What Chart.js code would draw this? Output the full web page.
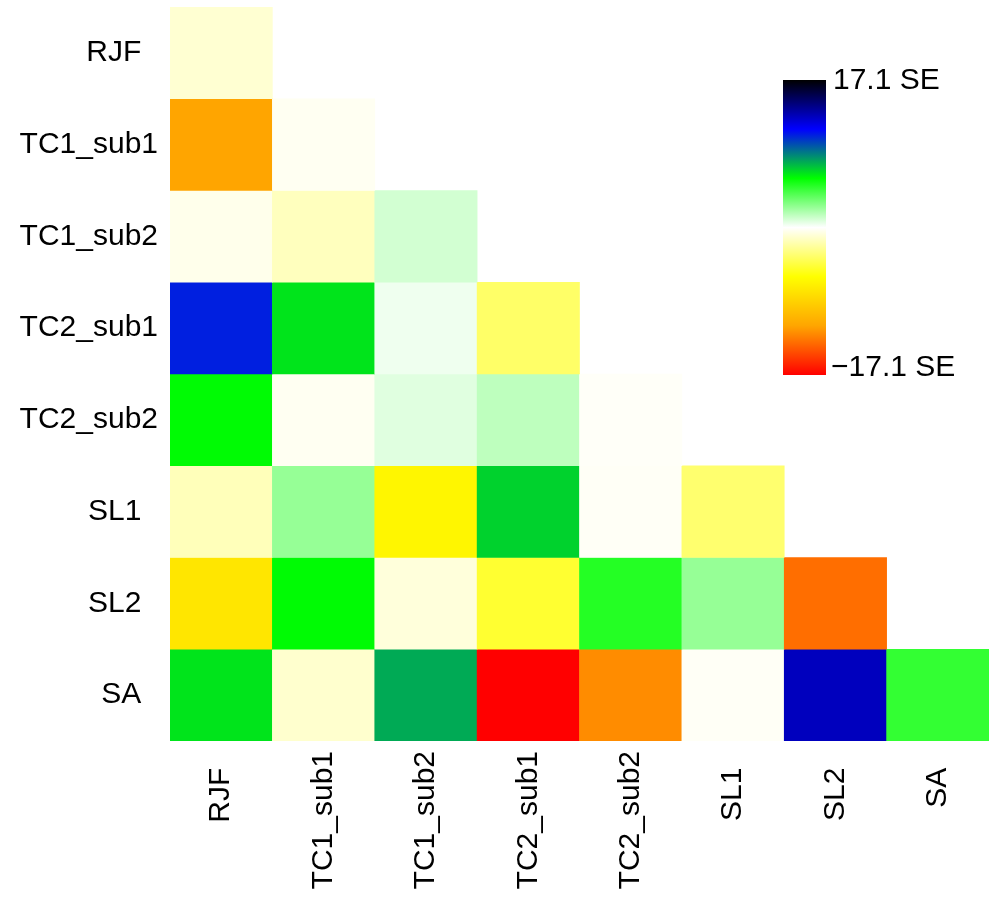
<!DOCTYPE html>
<html>
<head>
<meta charset="utf-8">
<title>Heatmap</title>
<script src="https://cdn.jsdelivr.net/npm/chart.js@4.4.1/dist/chart.umd.min.js"></script>
<style>
  body { margin: 0; background: #fff; }
</style>
</head>
<body>
<canvas id="chart" width="989" height="902"></canvas>
<script>
// Populations (same order on both axes)
const rowLabels = ['RJF', 'TC1_sub1', 'TC1_sub2', 'TC2_sub1', 'TC2_sub2', 'SL1', 'SL2', 'SA'];
const colLabels = ['RJF', 'TC1_sub1', 'TC1_sub2', 'TC2_sub1', 'TC2_sub2', 'SL1', 'SL2', 'SA'];

// Lower triangle values in SE units, one array per row
const rowRJF     = [-1.0];
const rowTC1sub1 = [-11.4, -0.3];
const rowTC1sub2 = [-0.45, -1.45, 1.0];
const rowTC2sub1 = [10.7, 6.3, 0.35, -3.4];
const rowTC2sub2 = [5.8, -0.3, 0.7, 1.45, -0.15];
const rowSL1     = [-1.55, 2.35, -6.3, 6.7, -0.2, -3.25];
const rowSL2     = [-7.3, 5.8, -0.8, -4.6, 4.9, 2.35, -13.3];
const rowSA      = [6.3, -1.1, 7.6, -17.1, -12.25, -0.2, 12.85, 4.55];
const values = [rowRJF, rowTC1sub1, rowTC1sub2, rowTC2sub1, rowTC2sub2, rowSL1, rowSL2, rowSA];

// colour scale limits
const scaleMax = 17.1;
const scaleLabels = ['17.1 SE', '\u221217.1 SE'];

// red -> orange -> yellow -> white -> green -> blue -> black
const palette = [[255, 0, 0], [255, 165, 0], [255, 255, 0], [255, 255, 255], [0, 255, 0], [0, 0, 255], [0, 0, 0]];

function colorFor(v) {
    let t = (v + scaleMax) / (2 * scaleMax);
    t = Math.min(1, Math.max(0, t));
    const pos = t * (palette.length - 1);
    const i = Math.min(palette.length - 2, Math.floor(pos));
    const f = pos - i;
    const a = palette[i], b = palette[i + 1];
    const c = a.map((x, k) => Math.round(x + (b[k] - x) * f));
    return `rgb(${c[0]}, ${c[1]}, ${c[2]})`;
}

// short names get two trailing spaces, like the original
const pad = s => s.length < 5 ? s + '  ' : s;

const datasets = values.map((row, i) => ({
    label: rowLabels[i],
    data: colLabels.map((_, j) => j < row.length ? [i, i + 1] : null),
    backgroundColor: colLabels.map((_, j) => j < row.length ? colorFor(row[j]) : 'rgba(0,0,0,0)'),
    borderWidth: 0,
    barPercentage: 1,
    categoryPercentage: 1,
    grouped: false
}));

// colour key drawn next to the matrix
const colorKey = {
    id: 'colorKey',
    afterDraw(chart) {
        const ctx = chart.ctx;
        const x = 783, y = 80, w = 43, h = 295;
        const grad = ctx.createLinearGradient(0, y + h, 0, y);
        palette.forEach((c, k) => grad.addColorStop(k / (palette.length - 1), `rgb(${c[0]}, ${c[1]}, ${c[2]})`));
        ctx.save();
        ctx.fillStyle = grad;
        ctx.fillRect(x, y, w, h);
        ctx.fillStyle = '#000';
        ctx.font = '30px "Liberation Sans", Arial, sans-serif';
        ctx.textAlign = 'left';
        ctx.textBaseline = 'middle';
        ctx.fillText(scaleLabels[0], x + 50, y + 1);
        ctx.fillText(scaleLabels[1], x + 48, y + h - 7);
        ctx.restore();
    }
};

const labelFont = { family: '"Liberation Sans", Arial, sans-serif', size: 30 };

new Chart(document.getElementById('chart'), {
    type: 'bar',
    data: { labels: colLabels, datasets: datasets },
    options: {
        responsive: false,
        animation: false,
        layout: { padding: { top: 7, left: 0, right: 0, bottom: 0 } },
        plugins: { legend: { display: false }, tooltip: { enabled: false } },
        scales: {
            x: {
                type: 'category',
                grid: { display: false, drawTicks: false },
                border: { display: false },
                ticks: {
                    autoSkip: false,
                    minRotation: 90,
                    maxRotation: 90,
                    padding: 10,
                    color: '#000',
                    font: labelFont,
                    callback: (v, i) => pad(colLabels[i])
                },
                afterFit: scale => {
                    scale.height = 161;
                    scale.paddingLeft = 0;
                    scale.paddingRight = 0;
                }
            },
            y: {
                type: 'linear',
                min: 0,
                max: 8,
                reverse: true,
                grid: { display: false, drawTicks: false },
                border: { display: false },
                afterBuildTicks: scale => { scale.ticks = rowLabels.map((_, i) => ({ value: i + 0.5 })); },
                ticks: {
                    autoSkip: false,
                    padding: 12,
                    color: '#000',
                    font: labelFont,
                    callback: (v, i) => pad(rowLabels[i])
                },
                afterFit: scale => {
                    scale.width = 170;
                    scale.paddingTop = 0;
                    scale.paddingBottom = 0;
                }
            }
        }
    },
    plugins: [colorKey]
});
</script>
</body>
</html>
